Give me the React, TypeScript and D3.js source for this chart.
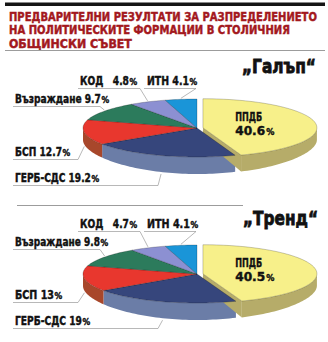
import React, { useLayoutEffect, useRef, useState } from 'react';
import * as d3 from 'd3';

const parties = ['ППДБ', 'ГЕРБ-СДС', 'БСП', 'Възраждане', 'КОД', 'ИТН'];
const galupValues = [40.6, 19.2, 12.7, 9.7, 4.8, 4.1];
const trendValues = [40.5, 19, 13, 9.8, 4.7, 4.1];
const galupLabels = ['40.6', '19.2', '12.7', '9.7', '4.8', '4.1'];
const trendLabels = ['40.5', '19', '13', '9.8', '4.7', '4.1'];
const pollNames = ['„Галъп“', '„Тренд“'];
const titleLines = [
  'ПРЕДВАРИТЕЛНИ РЕЗУЛТАТИ ЗА РАЗПРЕДЕЛЕНИЕТО',
  'НА ПОЛИТИЧЕСКИТЕ ФОРМАЦИИ В СТОЛИЧНИЯ',
  'ОБЩИНСКИ СЪВЕТ',
];

const topColors = ['#f7f08a', '#36467c', '#e8372e', '#2c7b5c', '#8c90d2', '#1a95d8'];
const sideColors = ['#b6ac69', '#6b7da7', '#a8472b', '#1f5a43', '#6a6ea8', '#14709f'];

const FONT = "'Liberation Sans Narrow', 'Arial Narrow', 'DejaVu Sans Condensed', 'Roboto Condensed', sans-serif";

// label layout (per party index): text x, baseline, underline start/end, anchor side, widths per chart
const labelLayout: Record<number, { tx: number; ty: number; ls: number; le: number; side: 'top' | 'bottom'; sep: string; w: number[] }> = {
  1: { tx: 15, ty: 182, ls: 13, le: 158, side: 'bottom', sep: ' ', w: [82, 73] },
  2: { tx: 15, ty: 156, ls: 13, le: 78, side: 'bottom', sep: ' ', w: [53, 45] },
  3: { tx: 15, ty: 103, ls: 13, le: 100, side: 'top', sep: ' ', w: [92, 91] },
  4: { tx: 80, ty: 85, ls: 78, le: 140, side: 'top', sep: '   ', w: [55, 55] },
  5: { tx: 147, ty: 85, ls: 144, le: 196, side: 'top', sep: ' ', w: [48, 49] },
};
const PCT_W = 6;

const charts = [
  { values: galupValues, labels: galupLabels, cy: 128, labelOffset: 0, name: pollNames[0], nameX: 242, nameY: 73, nameW: 74 },
  { values: trendValues, labels: trendLabels, cy: 274, labelOffset: 143, name: pollNames[1], nameX: 243, nameY: 225, nameW: 75 },
];

const CX = 197;
const RX = 114;
const RY = 29;
const EXPLODE = 6;
const depthAt = (t: number) => 12 + 5 * Math.pow(Math.max(0, -Math.cos(t)), 2);

function FitText({ x, y, width, children, ...rest }: any) {
  const ref = useRef<SVGTextElement>(null);
  const [sx, setSx] = useState(1);
  useLayoutEffect(() => {
    const el = ref.current;
    if (!el) return;
    const n = el.getComputedTextLength();
    if (n > 0) setSx(width / n);
  }, [width, children]);
  return (
    <text ref={ref} x={0} y={0} transform={`translate(${x},${y}) scale(${sx},1)`} style={{ whiteSpace: 'pre' }} {...rest}>
      {children}
    </text>
  );
}

function Pie3D({ values, labels, cy, labelOffset, idx }: { values: number[]; labels: string[]; cy: number; labelOffset: number; idx: number }) {
  const arcs = d3.pie<number>().sort(null).startAngle(0).endAngle(2 * Math.PI)(values);
  const xs = d3.scaleLinear().domain([-1, 1]).range([CX - RX, CX + RX]);
  const ys = d3.scaleLinear().domain([-1, 1]).range([cy - RY, cy + RY]);

  const offsets = arcs.map((a, i) => {
    if (i !== 0) return [0, 0];
    const m = (a.startAngle + a.endAngle) / 2;
    return [EXPLODE * Math.sin(m), -EXPLODE * Math.cos(m) * (RY / RX)];
  });
  const pt = (t: number, i: number, r = 1, down = false): [number, number] => [
    xs(r * Math.sin(t)) + offsets[i][0],
    ys(-r * Math.cos(t)) + offsets[i][1] + (down ? depthAt(t) : 0),
  ];
  const arcPts = (a0: number, a1: number, i: number, down = false) => {
    const n = Math.max(2, Math.ceil(Math.abs(a1 - a0) / 0.03));
    return d3.range(n + 1).map((k) => pt(a0 + ((a1 - a0) * k) / n, i, 1, down));
  };
  const line = d3.line();

  const sides: React.ReactNode[] = [];
  arcs.forEach((a, i) => {
    const s = Math.max(a.startAngle, Math.PI / 2);
    const e = Math.min(a.endAngle, (3 * Math.PI) / 2);
    if (s < e) {
      const top = arcPts(s, e, i);
      const bot = arcPts(e, s, i, true);
      sides.push(<path key={'s' + i} d={line([...top, ...bot])! + 'Z'} fill={sideColors[i]} />);
    }
  });
  // radial wall of the exploded slice
  const a0 = arcs[0];
  const c0 = pt(0, 0, 0);
  const e0 = pt(a0.endAngle, 0);
  const e0d = pt(a0.endAngle, 0, 1, true);
  const wall = line([c0, e0, e0d, [c0[0], c0[1] + 12]])! + 'Z';

  const tops = arcs.map((a, i) => {
    const c = pt(0, i, 0);
    const d = line([c, ...arcPts(a.startAngle, a.endAngle, i)])! + 'Z';
    return <path key={'t' + i} d={d} fill={topColors[i]} stroke="rgba(0,0,0,0.35)" strokeWidth={0.6} strokeLinejoin="round" />;
  });

  const labelEls = arcs.map((a, i) => {
    const m = (a.startAngle + a.endAngle) / 2;
    if (i === 0) {
      const [lx, ly] = pt(m, 0, 0.43);
      return (
        <g key={'l0'} fontFamily={FONT} fontWeight="bold" fill="#111" stroke="#111" strokeWidth={0.4}>
          <FitText x={lx - 16} y={ly - 5} fontSize={12.5} width={27}>{parties[0]}</FitText>
          <FitText x={lx - 16} y={ly + 9} fontSize={12.5} width={30}>{labels[0]}</FitText>
          <text x={lx + 15} y={ly + 9} fontSize={9}>%</text>
        </g>
      );
    }
    const L = labelLayout[i];
    const ty = L.ty + labelOffset;
    const edge = pt(m, i);
    const anchor: [number, number] = L.side === 'top' ? [edge[0], edge[1] - 1] : [edge[0], edge[1] + depthAt(m) + 2];
    const uy = ty + 3.5;
    const w = L.w[idx];
    return (
      <g key={'l' + i} fontFamily={FONT} fontWeight="bold" fill="#111" stroke="#111" strokeWidth={0.4}>
        <path d={line([[L.ls, uy], [L.le, uy], anchor])!} fill="none" stroke="#9a9a9a" strokeWidth={0.7} />
        <FitText x={L.tx} y={ty} fontSize={12} width={w - PCT_W}>
          {parties[i] + L.sep + labels[i]}
        </FitText>
        <text x={L.tx + w - PCT_W + 0.5} y={ty} fontSize={8.5}>%</text>
      </g>
    );
  });

  return (
    <g>
      {sides}
      <path d={wall} fill={sideColors[0]} />
      {tops}
      {labelEls}
    </g>
  );
}

export default function App() {
  return (
    <svg width={328} height={342} style={{ position: 'absolute', left: 0, top: 0, background: '#fff' }}>
      <rect x={0} y={0} width={328} height={342} fill="#fff" />
      <rect x={5} y={2.5} width={320} height={3.5} fill="#151515" />
      {titleLines.map((t, i) => (
        <FitText
          key={i}
          x={9}
          y={20.5 + i * 13.6}
          width={[308, 281, 123][i]}
          fontFamily={FONT}
          fontWeight="bold"
          fontSize={12.3}
          fill="#a3181d"
          stroke="#a3181d"
          strokeWidth={0.45}
        >
          {t}
        </FitText>
      ))}
      <line x1={5} x2={325} y1={50.5} y2={50.5} stroke="#9c9c9c" strokeWidth={1} />
      <line x1={17} x2={243} y1={205.5} y2={205.5} stroke="#9c9c9c" strokeWidth={1} />
      {charts.map((c, i) => (
        <g key={i}>
          <FitText
            x={c.nameX}
            y={c.nameY}
            width={c.nameW}
            fontFamily={FONT}
            fontWeight="bold"
            fontSize={20}
            fill="#111"
            stroke="#111"
            strokeWidth={0.8}
          >
            {c.name}
          </FitText>
          <Pie3D values={c.values} labels={c.labels} cy={c.cy} labelOffset={c.labelOffset} idx={i} />
        </g>
      ))}
    </svg>
  );
}
